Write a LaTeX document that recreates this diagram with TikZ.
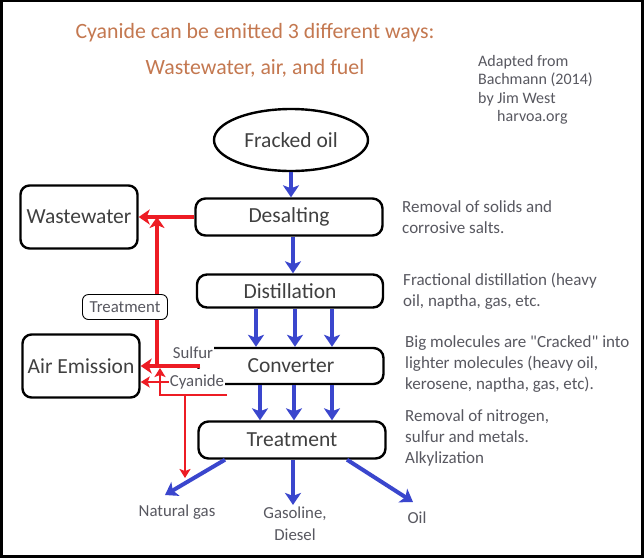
\documentclass[tikz,border=0pt]{standalone}
\usepackage{fontspec}
\setmainfont{Carlito}[Ligatures=TeXOff]
\usepackage{xcolor}
\usetikzlibrary{shapes.geometric, arrows.meta, positioning}

\definecolor{flowblue}{RGB}{58,70,205}
\definecolor{leakred}{RGB}{237,28,36}
\definecolor{titlebrown}{RGB}{196,120,80}
\definecolor{boxtext}{RGB}{64,64,64}
\definecolor{notegray}{RGB}{88,88,96}

\begin{document}
\begin{tikzpicture}[
    x=1pt, y=-1pt,
    proc/.style={
      rectangle, rounded corners=10pt,
      draw=black, line width=2.4pt,
      fill=white, text=boxtext,
      inner sep=0pt,
      font=\fontsize{21.5}{25}\selectfont
    },
    sink/.style={
      rectangle, rounded corners=9pt,
      draw=black, line width=2.4pt,
      fill=white, text=boxtext,
      minimum width=117pt, minimum height=63pt,
      inner sep=0pt,
      font=\fontsize{21.5}{25}\selectfont
    },
    note/.style={
      anchor=west, align=left, text=notegray,
      inner sep=0pt,
      font=\fontsize{17}{21}\selectfont
    },
    tag/.style={
      text=notegray, fill=white, inner xsep=1pt, inner ysep=6pt,
      font=\fontsize{16.8}{21}\selectfont
    },
    flow/.style={-{Stealth[length=12pt,width=16pt,inset=3pt]},
      line width=4pt, draw=flowblue},
    leak/.style={-{Stealth[length=11pt,width=15pt,inset=3pt]},
      line width=4pt, draw=leakred},
    leakthin/.style={-{Stealth[length=9pt,width=11pt,inset=2pt]},
      line width=2pt, draw=leakred}
  ]

    % frame
    \fill[black] (0,0) rectangle (644,558);
    \fill[white] (3,2) rectangle (641,555);

    % title and credit
    \node[text=titlebrown, font=\fontsize{21.8}{26}\selectfont] (title1)
      at (255,33) {Cyanide can be emitted 3 different ways:};
    \node[text=titlebrown, font=\fontsize{21.8}{26}\selectfont] (title2)
      at (255,68) {Wastewater, air, and fuel};
    \node[anchor=north west, align=left, text=notegray, inner sep=0pt,
      font=\fontsize{16}{18.5}\selectfont] (credit) at (478,55)
      {Adapted from\\Bachmann (2014)\\by Jim West\\\hspace*{19pt}harvoa.org};

    % refinery steps
    \node[ellipse, draw=black, line width=2.4pt, fill=white, text=boxtext,
      minimum width=154pt, minimum height=62pt, inner sep=0pt,
      font=\fontsize{21.5}{25}\selectfont] (fracked) at (291,140) {Fracked oil};
    \node[proc, minimum width=187pt, minimum height=37pt] (desalt)
      at (289,217) {Desalting};
    \node[proc, minimum width=186pt, minimum height=33pt] (distill)
      at (290,291) {Distillation};
    \node[proc, minimum width=185pt, minimum height=36pt] (conv)
      at (291,366) {Converter};
    \node[proc, minimum width=187pt, minimum height=37pt] (treat)
      at (292,440) {Treatment};

    % outlets
    \node[sink] (waste) at (79,217) {Wastewater};
    \node[sink] (air) at (81,366) {Air Emission};
    \node[draw=black, line width=0.9pt, rounded corners=6pt, fill=white,
      minimum width=85pt, minimum height=25pt, inner sep=0pt,
      text=notegray, font=\fontsize{16.8}{18}\selectfont] (trlbl)
      at (125,307) {Treatment};

    % products
    \node[tag] (natgas) at (177,512) {Natural gas};
    \node[tag, align=center, inner ysep=2pt,
      font=\fontsize{16.8}{22}\selectfont] (fuel)
      at (295,524) {Gasoline,\\Diesel};
    \node[tag] (oil) at (417,518) {Oil};

    % notes
    \node[note] (nDes) at (402,217)
      {Removal of solids and\\corrosive salts.};
    \node[note] (nDis) at (403,291)
      {Fractional distillation (heavy\\oil, naptha, gas, etc.};
    \node[note] (nConv) at (405,364)
      {Big molecules are "Cracked" into\\lighter molecules (heavy oil,\\kerosene, naptha, gas, etc).};
    \node[note] (nTreat) at (405,438)
      {Removal of nitrogen,\\sulfur and metals.\\Alkylization};

    % emission labels (white, over the converter's left end)
    \node[tag] (sulf) at (193,353) {Sulfur};
    \node[tag] (cyan) at (197,382) {Cyanide};

    % free ends
    \coordinate (wwJoin) at (157,217);
    \coordinate (sJoin) at (157,366);
    \coordinate (cyOut) at (227,395);
    \coordinate (cyUp) at (160,368);
    \coordinate (cyDown) at (185,478);
    \coordinate (gasTip) at (165,495);
    \coordinate (oilTip) at (413,502);

    % main flow
    \draw[flow] (fracked.south) -- (fracked.south |- desalt.north);
    \draw[flow] ([xshift=4pt]desalt.south) -- ([xshift=4pt]desalt.south |- distill.north);
    \foreach \dx in {-34,5,42}
      \draw[flow] ([xshift=\dx pt]distill.south) -- ([xshift=\dx pt]distill.south |- conv.north);
    \foreach \dx in {-31,3,41}
      \draw[flow] ([xshift=\dx pt]conv.south) -- ([xshift=\dx pt]conv.south |- treat.north);
    \draw[flow] ([xshift=-67pt]treat.south) -- (gasTip);
    \draw[flow] ([xshift=1pt]treat.south) -- ([xshift=1pt]treat.south |- fuel.north);
    \draw[flow] ([xshift=55pt]treat.south) -- (oilTip);

    % emissions
    \draw[leak] (desalt.west) -- (waste.east);
    \draw[leak] (trlbl.north -| wwJoin) -- (wwJoin);
    \draw[leak, -] (trlbl.south -| sJoin) -- (sJoin);
    \draw[leak] ([xshift=3pt]conv.west) -- (air.east);
    \draw[leakthin, -] (cyOut -| cyDown) -- (cyOut);
    \draw[leakthin] (cyOut) -| (cyUp);
    \draw[leakthin] (cyOut -| cyDown) -- (cyDown);
    \draw[leakthin] (cyan.west) -- (air.east |- cyan.west);

  \end{tikzpicture}
\end{document}
